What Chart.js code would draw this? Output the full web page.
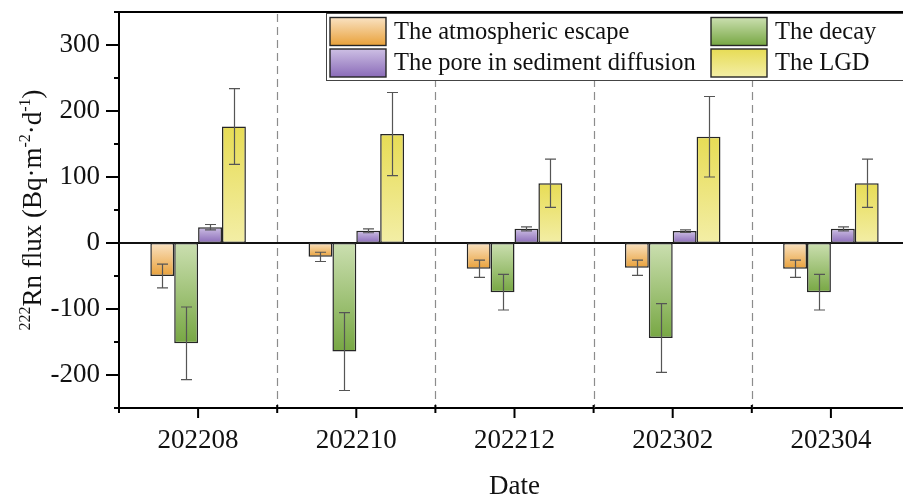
<!DOCTYPE html>
<html>
<head>
<meta charset="utf-8">
<script src="https://cdn.jsdelivr.net/npm/chart.js@4.4.1/dist/chart.umd.min.js"></script>
<style>
  html, body { margin: 0; padding: 0; background: #fff; overflow: hidden; width: 903px; height: 500px; }
  canvas { display: block; }
</style>
</head>
<body>
<canvas id="c" width="920" height="500"></canvas>
<script>
// Sampling campaigns (year + month)
const dates = ['202208', '202210', '202212', '202302', '202304'];
const seriesNames = ['The atmospheric escape', 'The decay', 'The pore in sediment diffusion', 'The LGD'];

// 222Rn fluxes, Bq·m-2·d-1 (mean and one-sided error)
const atmosphericEscape    = [-50, -21, -39, -37.5, -39];
const atmosphericEscapeErr = [18, 7, 13, 11.5, 13];
const decay                = [-152, -164.5, -74.5, -144, -74.5];
const decayErr             = [55, 59, 27, 52, 27];
const poreDiffusion        = [24, 18.5, 21.5, 18, 21.5];
const poreDiffusionErr     = [4, 3, 3, 2, 3];
const lgd                  = [176.5, 165, 90.5, 161, 90.5];
const lgdErr               = [57.5, 63, 36.5, 61, 36.5];

const yTicks = [-200, -100, 0, 100, 200, 300];
const yMinorStep = 50;

const seriesValues = [atmosphericEscape, decay, poreDiffusion, lgd];
const seriesErrors = [atmosphericEscapeErr, decayErr, poreDiffusionErr, lgdErr];

// vertical gradient stops (top -> bottom of each bar)
const fills = [
  { top: '#f9e2c2', bottom: '#e9a13a' },
  { top: '#cbdfb0', bottom: '#77a743' },
  { top: '#cdbfe4', bottom: '#8a6bb8' },
  { top: '#e7dc55', bottom: '#f3eea6' }
];

const SERIF = '"Liberation Serif", "Times New Roman", serif';

function barFill(i) {
  return (ctx) => {
    const chart = ctx.chart;
    const { chartArea, scales } = chart;
    if (!chartArea || ctx.type !== 'data' || !scales.y) return fills[i].bottom;
    const y0 = scales.y.getPixelForValue(0);
    const y1 = scales.y.getPixelForValue(ctx.raw);
    const t = Math.min(y0, y1), b = Math.max(y0, y1);
    if (b - t < 1) return fills[i].bottom;
    const g = chart.ctx.createLinearGradient(0, t, 0, b);
    g.addColorStop(0, fills[i].top);
    g.addColorStop(1, fills[i].bottom);
    return g;
  };
}

// frame, separators, tick marks and zero line
const axesDecor = {
  id: 'axesDecor',
  beforeDatasetsDraw(chart) {
    const { ctx, chartArea: a, scales: { x, y } } = chart;
    ctx.save();
    // dashed separators between dates
    ctx.strokeStyle = '#8c8c8c';
    ctx.lineWidth = 1.2;
    ctx.setLineDash([8, 5]);
    for (let i = 0; i < dates.length - 1; i++) {
      const xb = Math.round((x.getPixelForValue(i) + x.getPixelForValue(i + 1)) / 2) + 0.5;
      ctx.beginPath(); ctx.moveTo(xb, a.top + 2); ctx.lineTo(xb, a.bottom); ctx.stroke();
    }
    ctx.setLineDash([]);
    // zero line
    const y0 = y.getPixelForValue(0);
    ctx.strokeStyle = '#111';
    ctx.lineWidth = 2;
    ctx.beginPath(); ctx.moveTo(a.left, y0); ctx.lineTo(a.right, y0); ctx.stroke();
    ctx.restore();
  },
  afterDraw(chart) {
    const { ctx, chartArea: a, scales: { x, y } } = chart;
    ctx.save();
    ctx.strokeStyle = '#000';
    ctx.lineWidth = 2;
    // top frame
    ctx.beginPath(); ctx.moveTo(a.left - 1, a.top); ctx.lineTo(a.right, a.top); ctx.stroke();
    // y ticks, outward
    for (let v = y.min; v <= y.max; v += yMinorStep) {
      const py = y.getPixelForValue(v);
      const len = yTicks.includes(v) ? 13 : 5;
      ctx.beginPath(); ctx.moveTo(a.left - len, py); ctx.lineTo(a.left, py); ctx.stroke();
    }
    // x ticks at dates, small marks at boundaries
    for (let i = 0; i < dates.length; i++) {
      const px = x.getPixelForValue(i);
      ctx.beginPath(); ctx.moveTo(px, a.bottom); ctx.lineTo(px, a.bottom + 10); ctx.stroke();
      const xb = i === 0 ? a.left : (x.getPixelForValue(i - 1) + px) / 2;
      ctx.beginPath(); ctx.moveTo(xb, a.bottom - 3); ctx.lineTo(xb, a.bottom + 5); ctx.stroke();
    }
    ctx.restore();
  }
};

// error bars
const errorBars = {
  id: 'errorBars',
  afterDatasetsDraw(chart) {
    const { ctx, scales: { y } } = chart;
    ctx.save();
    ctx.strokeStyle = '#555';
    ctx.lineWidth = 1.2;
    seriesErrors.forEach((errs, di) => {
      const meta = chart.getDatasetMeta(di);
      meta.data.forEach((bar, j) => {
        const v = seriesValues[di][j];
        const hi = y.getPixelForValue(v + errs[j]);
        const lo = y.getPixelForValue(v - errs[j]);
        const cx = Math.round(bar.x) + 0.5;
        ctx.beginPath();
        ctx.moveTo(cx, hi); ctx.lineTo(cx, lo);
        ctx.moveTo(cx - 5.5, hi); ctx.lineTo(cx + 5.5, hi);
        ctx.moveTo(cx - 5.5, lo); ctx.lineTo(cx + 5.5, lo);
        ctx.stroke();
      });
    });
    ctx.restore();
  }
};

// boxed two-column legend inside the plot
const boxLegend = {
  id: 'boxLegend',
  afterDraw(chart) {
    const { ctx } = chart;
    ctx.save();
    ctx.fillStyle = '#fff';
    ctx.fillRect(327, 14, 620, 66);
    ctx.strokeStyle = '#444';
    ctx.lineWidth = 1;
    ctx.strokeRect(326.5, 13.5, 620, 67);
    const colX = [330, 711], rowY = [17.5, 49];
    const w = 56, h = 28;
    ctx.font = '24.5px ' + SERIF;
    ctx.textBaseline = 'middle';
    ctx.textAlign = 'left';
    chart.data.datasets.forEach((ds, i) => {
      const sx = colX[i % 2], sy = rowY[Math.floor(i / 2)];
      const g = ctx.createLinearGradient(0, sy, 0, sy + h);
      g.addColorStop(0, fills[i].top);
      g.addColorStop(1, fills[i].bottom);
      ctx.fillStyle = g;
      ctx.fillRect(sx, sy, w, h);
      ctx.strokeStyle = '#262626';
      ctx.lineWidth = 1.4;
      ctx.strokeRect(sx, sy, w, h);
      ctx.fillStyle = '#111';
      ctx.fillText(ds.label, sx + w + 8, sy + h / 2 + 1);
    });
    ctx.restore();
  }
};

// axis titles (with superscripts on the y title)
const axisTitles = {
  id: 'axisTitles',
  afterDraw(chart) {
    const { ctx, chartArea: a } = chart;
    ctx.save();
    ctx.fillStyle = '#111';
    ctx.textBaseline = 'alphabetic';
    ctx.textAlign = 'center';
    ctx.font = '27px ' + SERIF;
    ctx.fillText('Date', (a.left + a.right) / 2, 494);

    const parts = [
      { t: '222', sup: true }, { t: 'Rn flux (Bq·m' }, { t: '-2', sup: true },
      { t: '·d' }, { t: '-1', sup: true }, { t: ')' }
    ];
    const mainFont = '27px ' + SERIF, supFont = '16px ' + SERIF;
    let total = 0;
    parts.forEach(p => { ctx.font = p.sup ? supFont : mainFont; p.w = ctx.measureText(p.t).width; total += p.w; });
    ctx.translate(41, (a.top + a.bottom) / 2);
    ctx.rotate(-Math.PI / 2);
    ctx.textAlign = 'left';
    let u = -total / 2;
    parts.forEach(p => {
      ctx.font = p.sup ? supFont : mainFont;
      ctx.fillText(p.t, u, p.sup ? -11 : 0);
      u += p.w;
    });
    ctx.restore();
  }
};

new Chart(document.getElementById('c'), {
  type: 'bar',
  data: {
    labels: dates,
    datasets: seriesValues.map((vals, i) => ({
      label: seriesNames[i],
      data: vals,
      backgroundColor: barFill(i),
      borderColor: '#262626',
      borderWidth: 1.5,
      borderSkipped: false,
      categoryPercentage: 0.604,
      barPercentage: 1
    }))
  },
  options: {
    responsive: false,
    animation: false,
    layout: { padding: { top: 12, right: 10, left: 0, bottom: 0 } },
    plugins: { legend: { display: false }, tooltip: { enabled: false } },
    scales: {
      x: {
        grid: { display: false, drawTicks: false },
        border: { display: true, color: '#000', width: 2 },
        ticks: { color: '#111', font: { family: SERIF, size: 27 }, padding: 17, maxRotation: 0 },
        afterFit: (s) => { s.height = 92; s.paddingLeft = 0; s.paddingRight = 0; }
      },
      y: {
        min: -250,
        max: 350,
        afterBuildTicks: (s) => { s.ticks = yTicks.map(v => ({ value: v })); },
        grid: { display: false, drawTicks: false },
        border: { display: true, color: '#000', width: 2 },
        ticks: { color: '#111', font: { family: SERIF, size: 27 }, padding: 19 },
        afterFit: (s) => { s.width = 119; s.paddingTop = 0; s.paddingBottom = 0; }
      }
    }
  },
  plugins: [axesDecor, errorBars, boxLegend, axisTitles]
});
</script>
</body>
</html>
